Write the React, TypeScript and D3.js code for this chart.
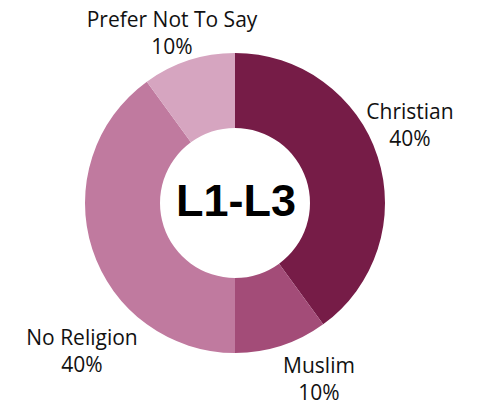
import React from "react";
import * as d3 from "d3";

const categories = ["Christian", "Muslim", "No Religion", "Prefer Not To Say"];
const values = [40, 10, 40, 10];
const colors = ["#761c47", "#a34c78", "#c07a9f", "#d6a5c0"];
const centerLabel = "L1-L3";

// label anchor positions (centre x, baseline y of first line)
const labelPos: [number, number][] = [
  [410, 119],
  [319, 373],
  [82, 345],
  [172, 27],
];

export default function App() {
  const W = 483, H = 403;
  const cx = 235, cy = 203;
  const outer = 150, inner = 75;
  const pie = d3.pie<number>().sort(null).value((d) => d);
  const arcs = pie(values);
  const arc = d3.arc<d3.PieArcDatum<number>>().innerRadius(inner).outerRadius(outer);
  const font = "'Open Sans', sans-serif";
  return (
    <svg width={W} height={H} style={{ position: "absolute", left: 0, top: 0 }}>
      <rect width={W} height={H} fill="#fff" />
      <g transform={`translate(${cx},${cy})`}>
        {arcs.map((a, i) => (
          <path key={i} d={arc(a) || ""} fill={colors[i]} />
        ))}
      </g>
      <text x={cx + 1} y={216} textAnchor="middle" fontFamily="'Liberation Sans', Arial, sans-serif" fontWeight="bold" fontSize={45} fill="#000">
        {centerLabel}
      </text>
      {categories.map((c, i) => (
        <text key={c} textAnchor="middle" fontFamily={font} fontSize={21} fill="#111">
          <tspan x={labelPos[i][0]} y={labelPos[i][1]}>{c}</tspan>
          <tspan x={labelPos[i][0]} y={labelPos[i][1] + 27}>{values[i]}%</tspan>
        </text>
      ))}
    </svg>
  );
}
